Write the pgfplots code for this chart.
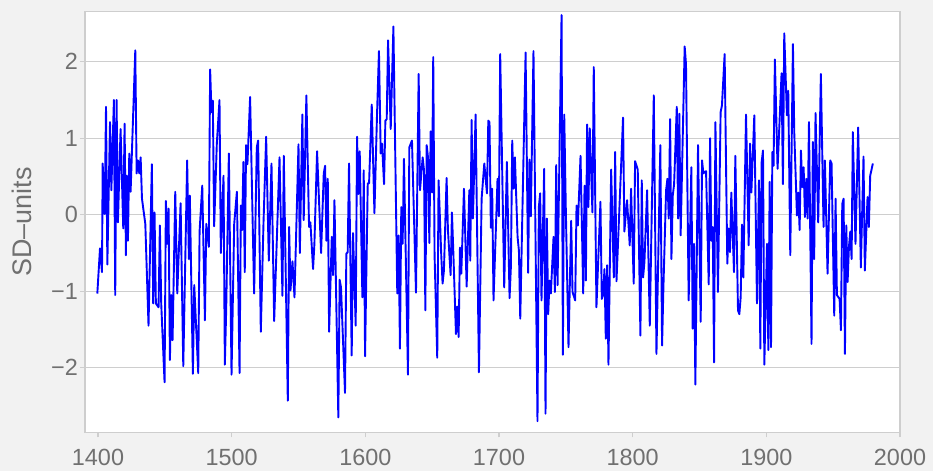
\documentclass[border=0pt]{standalone}
\usepackage{fontspec}
\setmainfont{Liberation Sans}
\usepackage{pgfplots}
\pgfplotsset{compat=1.18}
\definecolor{bg}{HTML}{F2F2F2}
\definecolor{gridc}{HTML}{CECECE}
\definecolor{labc}{HTML}{707070}
\begin{document}
\begin{tikzpicture}
\fill[bg] (0,0) rectangle (933bp,471bp);
\begin{axis}[
 at={(85bp,38.7bp)}, anchor=south west,
 width=815bp, height=420.6bp, scale only axis,
 xmin=1390.28, xmax=2000, ymin=-2.844, ymax=2.654,
 axis background/.style={fill=white},
 axis line style={gridc, line width=1.4bp},
 xtick={1400,1500,1600,1700,1800,1900,2000},
 xticklabels={1400,1500,1600,1700,1800,1900,2000},
 ytick={-2,-1,0,1,2},
 yticklabels={−2,−1,0,1,2},
 tick align=outside, major tick length=5bp,
 tick style={gridc, line width=1.4bp},
 xtick pos=bottom, ytick pos=left,
 ymajorgrids, grid style={gridc, line width=1.4bp},
 tick label style={labc, font=\fontsize{23.5}{23.5}\selectfont},
 xticklabel style={anchor=north, inner sep=0pt, yshift=-12bp},
 yticklabel style={anchor=east, inner sep=0pt, xshift=-2bp},
 ylabel={SD–units},
 ylabel style={labc, font=\fontsize{27}{27}\selectfont, at={(axis description cs:-0.0777,0.5)}, anchor=center},
]
\addplot[blue, line width=1.9bp, line join=round] coordinates {
(1399.5,-1.03) (1401.5,-0.44) (1403.0,-0.75) (1403.5,0.67) (1405.0,0.01) (1406.0,1.41) (1407.0,-0.65) (1409.0,1.21) (1410.0,0.32) (1411.9,1.50) (1412.9,-1.05) (1413.9,1.50) (1414.9,-0.10) (1416.9,1.12) (1418.9,-0.18) (1419.9,1.19) (1420.9,-0.53) (1421.4,0.51) (1422.4,-0.34) (1423.4,0.80) (1424.4,0.30) (1427.9,2.15) (1428.9,0.54) (1429.9,0.71) (1430.9,0.54) (1431.9,0.75) (1432.9,0.21) (1435.4,-0.12) (1437.8,-1.45) (1440.3,0.66) (1441.3,-1.16) (1442.3,0.03) (1443.3,-1.16) (1445.3,-1.21) (1446.3,-0.14) (1447.3,-1.16) (1449.8,-2.19) (1450.8,0.18) (1451.8,-0.38) (1452.8,0.08) (1453.8,-1.90) (1454.8,-1.05) (1455.8,-1.64) (1457.8,0.30) (1459.3,-1.03) (1461.8,0.15) (1463.8,-1.98) (1466.7,0.71)
(1468.0,-0.58) (1468.7,0.25) (1471.0,-2.08) (1472.0,-0.92) (1475.0,-2.07) (1476.0,-0.22) (1478.0,0.38) (1480.0,-1.38) (1481.0,-0.12) (1482.9,-0.42) (1483.9,1.90) (1484.9,1.34) (1485.9,1.49) (1486.9,-0.15) (1488.9,0.93) (1490.9,1.50) (1491.9,-0.50) (1493.9,0.51) (1494.9,-1.96) (1495.9,-1.25) (1497.9,0.80) (1499.9,-2.09) (1501.9,-0.12) (1503.9,0.30) (1505.9,-2.07) (1506.9,0.12) (1507.8,-0.20) (1508.8,0.69) (1509.8,-0.75) (1510.8,0.91) (1511.8,0.66) (1513.8,1.54) (1516.8,-1.03) (1518.8,0.88) (1519.8,0.97) (1521.8,-1.53) (1523.8,-0.12) (1525.8,1.02) (1527.8,-0.60) (1529.8,0.67) (1531.8,-1.39) (1535.8,0.75)
(1538.0,-1.06) (1539.0,0.77) (1542.0,-2.43) (1543.0,-0.16) (1544.0,-0.99) (1545.5,-0.61) (1547.0,-1.08) (1550.0,0.92) (1551.0,-0.50) (1552.9,1.31) (1553.9,-0.07) (1555.9,1.56) (1557.9,-0.16) (1558.9,-0.10) (1560.9,-0.71) (1561.9,-0.38) (1563.9,0.83) (1566.9,-0.50) (1568.9,0.54) (1569.9,0.64) (1570.9,-0.34) (1571.9,0.47) (1572.9,-1.53) (1574.9,-0.29) (1575.9,-0.79) (1576.9,0.19) (1579.8,-2.65) (1580.8,-0.85) (1581.8,-0.95) (1584.8,-2.33) (1585.8,-0.51) (1586.8,-0.49) (1587.8,0.67) (1589.8,-1.84) (1590.8,-0.24) (1592.8,-1.45) (1593.8,1.02) (1594.8,0.27) (1595.8,0.83) (1597.8,-1.08) (1598.8,0.58) (1599.8,-1.85) (1601.8,0.41) (1602.8,0.41) (1604.8,1.44) (1606.8,0.02) (1608.7,1.28) (1610.2,2.14)
(1611.5,0.80) (1612.5,0.93) (1614.0,0.40) (1615.0,1.23) (1616.0,1.25) (1617.0,2.28) (1619.0,1.12) (1621.0,2.46) (1623.9,-1.03) (1624.9,-0.27) (1625.9,-1.75) (1626.9,0.10) (1627.9,-0.38) (1628.9,0.73) (1631.9,-2.09) (1632.9,0.88) (1634.9,0.97) (1637.9,-1.02) (1639.9,1.84) (1640.9,0.32) (1642.9,0.75) (1643.9,0.58) (1644.9,-1.25) (1645.9,0.91) (1646.9,0.75) (1647.9,-0.37) (1648.9,1.09) (1649.9,0.29) (1650.8,2.06) (1651.8,-0.53) (1653.8,-1.87) (1654.8,0.45) (1656.8,-0.53) (1657.8,-0.90) (1658.8,-0.73) (1660.8,0.48) (1661.8,-0.20) (1663.8,-0.79) (1664.8,0.03) (1665.8,-0.47) (1667.8,-1.56) (1668.8,-1.20) (1669.8,-1.60) (1670.8,-0.43) (1671.8,-0.77) (1673.8,0.34) (1675.8,-0.94) (1677.8,0.32)
(1678.5,-0.60) (1679.5,1.24) (1680.5,-0.05) (1682.5,1.31) (1685.0,-2.06) (1687.0,0.21) (1689.0,0.67) (1691.0,0.28) (1692.0,1.23) (1692.9,1.21) (1693.9,-0.17) (1694.9,0.34) (1695.9,-1.12) (1698.9,0.47) (1699.9,-0.02) (1700.9,2.10) (1703.9,-0.95) (1705.9,0.69) (1707.9,-1.09) (1708.9,-0.68) (1709.9,0.97) (1710.9,0.34) (1711.9,0.75) (1713.9,-0.29) (1714.9,-0.47) (1715.9,-1.36) (1719.9,2.12) (1721.8,-0.76) (1722.8,0.72) (1723.8,-0.02) (1725.8,2.14) (1728.8,-2.70) (1729.8,0.10) (1730.8,0.28) (1731.8,-1.12) (1733.8,0.60) (1734.8,-2.60) (1735.8,-0.05) (1736.8,-1.30) (1737.8,-0.86) (1738.8,-1.03) (1740.8,-0.29) (1741.8,-1.01) (1742.8,0.65) (1743.8,-0.92) (1746.8,2.61) (1747.8,-1.83) (1748.8,1.31)
(1750.0,0.06) (1752.0,-1.73) (1754.0,-0.08) (1755.0,-1.01) (1757.0,-1.12) (1758.0,0.12) (1759.0,-0.14) (1761.0,0.77) (1763.0,-1.03) (1764.0,0.38) (1765.0,-0.86) (1765.9,1.18) (1766.9,0.10) (1767.9,1.13) (1769.9,0.03) (1770.9,1.93) (1772.9,-1.21) (1775.9,0.17) (1776.9,-1.10) (1777.9,-1.05) (1778.9,-0.71) (1779.9,-1.62) (1780.9,-0.66) (1781.9,-1.96) (1783.9,0.59) (1785.9,-0.82) (1786.9,0.82) (1787.9,-0.87) (1792.8,1.27) (1793.8,-0.22) (1795.8,0.19) (1797.8,-0.40) (1798.8,0.34) (1800.8,-0.90) (1801.8,0.70) (1803.8,0.59) (1805.8,-1.58) (1806.8,0.45) (1807.8,-0.82) (1808.8,-0.62) (1810.8,0.32) (1812.8,-1.45) (1815.8,1.56) (1817.8,-1.82) (1820.7,0.91)
(1822.0,-1.71) (1823.0,-0.95) (1825.0,0.32) (1826.0,0.47) (1827.0,-0.05) (1828.0,1.25) (1829.0,-0.58) (1830.0,0.25) (1831.0,0.40) (1833.0,1.41) (1834.0,-0.05) (1834.9,1.32) (1835.9,-0.27) (1838.9,2.20) (1839.9,1.97) (1841.9,-1.12) (1843.9,0.62) (1844.9,-1.49) (1845.9,-0.38) (1846.9,-2.22) (1848.9,0.91) (1850.9,-1.40) (1851.9,0.71) (1852.9,0.54) (1854.9,0.57) (1856.9,-0.91) (1857.9,1.00) (1858.9,-0.34) (1859.9,-0.16) (1860.9,-1.93) (1861.9,1.21) (1863.8,-1.01) (1865.8,1.34) (1866.8,1.43) (1868.8,2.10) (1870.8,-0.64) (1871.8,-0.18) (1872.8,-0.49) (1873.8,0.29) (1875.8,-0.75) (1876.8,0.77) (1878.8,-1.25) (1879.8,-1.30) (1880.8,-1.08) (1881.8,-0.13) (1882.8,-0.82) (1884.8,1.31) (1886.8,-0.40) (1887.8,0.93) (1888.8,0.29)
(1891.0,1.30) (1893.0,-1.16) (1894.5,0.45) (1895.5,-1.75) (1896.5,0.69) (1897.5,0.84) (1898.5,-1.96) (1900.5,-0.38) (1901.5,-1.77) (1902.5,0.43) (1903.5,-1.73) (1904.5,0.82) (1905.4,0.64) (1906.4,2.03) (1908.4,0.60) (1911.4,1.85) (1912.4,0.40) (1913.4,2.37) (1915.4,1.30) (1916.4,1.62) (1917.9,-0.53) (1919.9,2.23) (1920.9,1.07) (1922.9,-0.01) (1923.9,0.29) (1924.9,-0.20) (1925.9,0.84) (1926.9,0.36) (1927.9,0.62) (1928.9,-0.03) (1929.9,0.47) (1930.9,-0.05) (1931.9,1.21) (1933.8,-1.69) (1934.8,0.95) (1935.8,-0.58) (1936.8,1.33) (1938.8,-0.10) (1940.8,1.84) (1942.8,-0.16) (1943.8,0.71) (1945.8,-0.77) (1947.8,0.71) (1948.8,0.67) (1950.8,-1.32) (1951.8,0.21) (1952.8,-1.05) (1954.8,-1.10) (1955.8,-1.51) (1956.8,0.14) (1957.8,0.21) (1958.8,-1.82) (1959.8,-0.14) (1960.8,-0.88) (1961.8,-0.42) (1962.8,-0.22) (1963.8,-0.58) (1964.7,1.08) (1966.7,-0.38) (1968.7,1.14) (1970.7,-0.69) (1972.7,0.76) (1973.7,-0.73) (1975.7,0.23) (1976.7,-0.16) (1977.7,0.51) (1979.7,0.67)
};
\end{axis}
\pgfresetboundingbox
\path[use as bounding box] (0,0) rectangle (933bp,471bp);
\end{tikzpicture}
\end{document}
